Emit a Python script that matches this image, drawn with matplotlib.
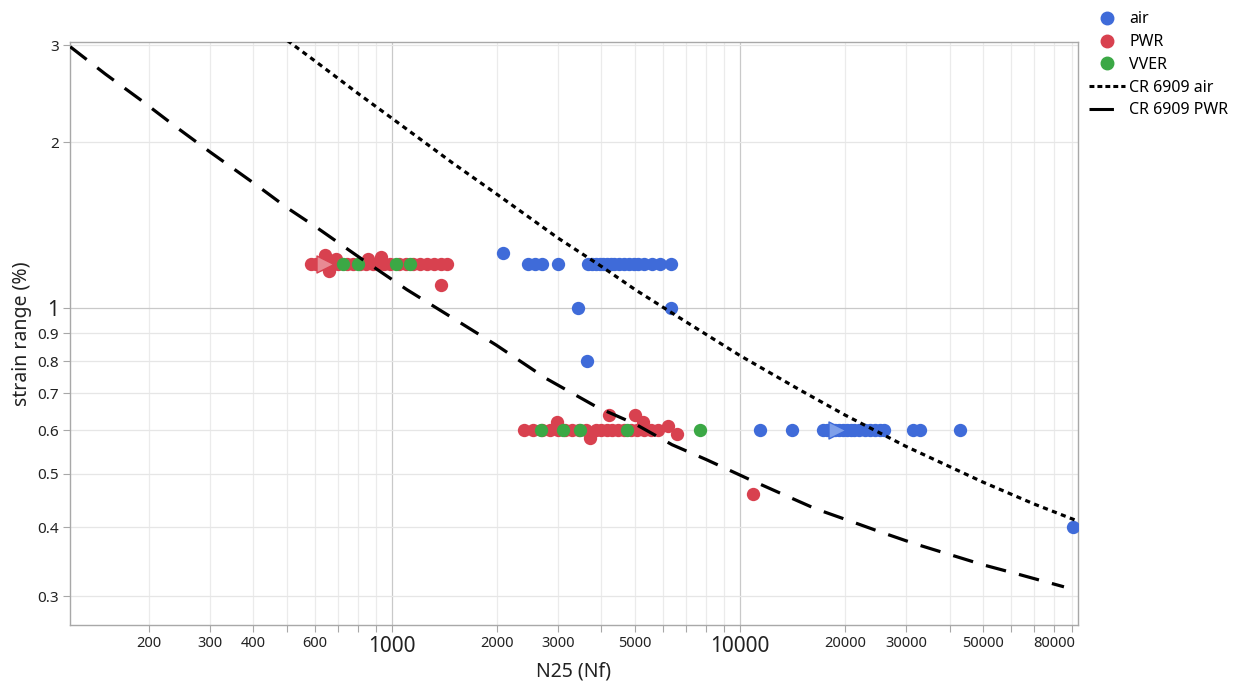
import numpy as np
import matplotlib
matplotlib.use("Agg")
from matplotlib import pyplot as plt
from matplotlib.lines import Line2D
from matplotlib.ticker import FixedLocator, NullLocator, NullFormatter

plt.rcParams['font.family'] = ['Noto Sans', 'DejaVu Sans']

# data (N25 cycles, strain range %)
air_cycles = [2085, 2460, 2576, 2698, 3000,
              3655, 3750, 3850, 3950, 4050, 4150, 4250, 4350, 4500, 4650, 4800, 4950,
              5100, 5300, 5600, 5900, 6340,
              3420, 6340, 3630,
              11400, 14100, 17300, 17800, 18300, 18800, 19300, 19800, 20300, 20800,
              21300, 22000, 22800, 23600, 24500, 25300, 25900, 31400, 32900, 42800,
              90600]
air_strain = [1.26, 1.2, 1.2, 1.2, 1.2,
              1.2, 1.2, 1.2, 1.2, 1.2, 1.2, 1.2, 1.2, 1.2, 1.2, 1.2, 1.2,
              1.2, 1.2, 1.2, 1.2, 1.2,
              1.0, 1.0, 0.80,
              0.6, 0.6, 0.6, 0.6, 0.6, 0.6, 0.6, 0.6, 0.6, 0.6,
              0.6, 0.6, 0.6, 0.6, 0.6, 0.6, 0.6, 0.6, 0.6, 0.6,
              0.40]

pwr_cycles = [585, 605, 625, 650, 675, 700, 745, 775, 810, 840, 880, 915, 950, 990,
              1050, 1100, 1150, 1200, 1260, 1320, 1380, 1440,
              641, 690, 853, 930, 660, 1383,
              2400, 2550, 2700, 2850, 3000, 3150, 3300, 3450, 3600, 3850, 4000,
              4150, 4300, 4450, 4650, 4850, 5050, 5300, 5550, 5800,
              2980, 4200, 4990, 5260, 6210, 6590, 3700,
              10900]
pwr_strain = [1.2, 1.2, 1.2, 1.2, 1.2, 1.2, 1.2, 1.2, 1.2, 1.2, 1.2, 1.2, 1.2, 1.2,
              1.2, 1.2, 1.2, 1.2, 1.2, 1.2, 1.2, 1.2,
              1.25, 1.23, 1.23, 1.24, 1.17, 1.10,
              0.6, 0.6, 0.6, 0.6, 0.6, 0.6, 0.6, 0.6, 0.6, 0.6, 0.6,
              0.6, 0.6, 0.6, 0.6, 0.6, 0.6, 0.6, 0.6, 0.6,
              0.62, 0.64, 0.64, 0.62, 0.61, 0.59, 0.58,
              0.46]

vver_cycles = [723, 798, 1027, 1127, 2680, 3100, 3470, 4730, 7670]
vver_strain = [1.2, 1.2, 1.2, 1.2, 0.6, 0.6, 0.6, 0.6, 0.6]

# run-outs (drawn as triangles)
runout_air = ([19000], [0.6])
runout_pwr = ([640], [1.2])

# design curves
cr_air_cycles = [500, 600, 800, 1000, 1500, 2000, 3000, 4000, 5000, 7000, 10000,
                 15000, 20000, 30000, 50000, 70000, 95000]
cr_air_strain = [3.06, 2.81, 2.45, 2.21, 1.83, 1.61, 1.34, 1.19, 1.08, 0.944, 0.82,
                 0.708, 0.64, 0.561, 0.483, 0.441, 0.409]
cr_pwr_cycles = [119, 150, 189, 240, 300, 409, 500, 608, 800, 1104, 1500, 1992,
                 2775, 3885, 5000, 6380, 8000, 10550, 13000, 16530, 20000, 25740,
                 32000, 40100, 50000, 62900, 85300]
cr_pwr_strain = [2.98, 2.66, 2.39, 2.13, 1.92, 1.67, 1.52, 1.40, 1.24, 1.08, 0.958,
                 0.857, 0.745, 0.661, 0.616, 0.565, 0.531, 0.490, 0.462, 0.432,
                 0.414, 0.391, 0.373, 0.357, 0.342, 0.329, 0.312]

x_ticks = [200, 300, 400, 600, 1000, 2000, 3000, 5000, 10000, 20000, 30000, 50000, 80000]
y_ticks = [0.3, 0.4, 0.5, 0.6, 0.7, 0.8, 0.9, 1, 2, 3]

blue = '#3F6BD9'
red = '#D8414F'
green = '#3BA845'

fig = plt.figure(figsize=(12.45, 6.91), dpi=100)
ax = fig.add_axes([70/1245, 1-625/691, 1008/1245, 583/691])
ax.set_xscale('log')
ax.set_yscale('log')
ax.set_xlim(118.8, 93600)
ax.set_ylim(0.266, 3.04)

# grid
minor_x = [m*10**e for e in range(2, 5) for m in range(2, 10)]
ax.xaxis.set_minor_locator(FixedLocator(minor_x))
ax.xaxis.set_minor_formatter(NullFormatter())
ax.yaxis.set_minor_locator(NullLocator())
for v in minor_x:
    ax.axvline(v, color='#EBEBEB', lw=0.9, zorder=0)
for v in [1000, 10000]:
    ax.axvline(v, color='#C9C9C9', lw=0.9, zorder=0)
for v in y_ticks:
    ax.axhline(v, color='#C9C9C9' if v == 1 else '#E6E6E6', lw=0.9, zorder=0)

ms = 92
ax.scatter(air_cycles, air_strain, s=ms, color=blue, zorder=3, linewidths=0)
ax.scatter(pwr_cycles, pwr_strain, s=ms, color=red, zorder=3, linewidths=0)
ax.scatter(vver_cycles, vver_strain, s=ms, color=green, zorder=4, linewidths=0)
ax.scatter(*runout_air, s=150, marker='>', facecolor='#7FA0EA', edgecolor=blue, zorder=3)
ax.scatter(*runout_pwr, s=150, marker='>', facecolor='#E88A93', edgecolor=red, zorder=3)

ax.plot(cr_air_cycles, cr_air_strain, color='black', lw=2.3, dashes=(1.6, 1.4),
        zorder=5, dash_capstyle='butt')
ax.plot(cr_pwr_cycles, cr_pwr_strain, color='black', lw=2.3, dashes=(6.5, 4.2),
        zorder=5, dash_capstyle='butt')

# ticks
ax.set_xticks(x_ticks)
ax.set_xticklabels([str(t) for t in x_ticks])
for lab, t in zip(ax.get_xticklabels(), x_ticks):
    lab.set_fontsize(15 if t in (1000, 10000) else 10.5)
    lab.set_color('#222222')
ax.set_yticks(y_ticks)
ax.set_yticklabels(['0.3', '0.4', '0.5', '0.6', '0.7', '0.8', '0.9', '1', '2', '3'])
for lab, t in zip(ax.get_yticklabels(), y_ticks):
    lab.set_fontsize(15 if t == 1 else 11)
    lab.set_color('#222222')
ax.tick_params(axis='both', which='both', direction='out', length=5, color='#A8A8A8', width=0.8)
ax.tick_params(axis='x', which='both', pad=3)
ax.tick_params(axis='y', pad=3)

for sp in ax.spines.values():
    sp.set_color('#A8A8A8')
    sp.set_linewidth(1)

ax.set_xlabel('N25 (Nf)', fontsize=14, color='#222222', labelpad=3)
ax.set_ylabel('strain range (%)', fontsize=14, color='#222222', labelpad=4)

handles = [
    Line2D([], [], ls='none', marker='o', ms=9, color=blue),
    Line2D([], [], ls='none', marker='o', ms=9, color=red),
    Line2D([], [], ls='none', marker='o', ms=9, color=green),
    Line2D([], [], color='black', lw=2.2, dashes=(1.6, 1.0)),
    Line2D([], [], color='black', lw=2.2, dashes=(8, 10)),
]
labels = ['air', 'PWR', 'VVER', 'CR 6909 air', 'CR 6909 PWR']
fig.legend(handles, labels, loc='upper left', bbox_to_anchor=(1083/1245, 1-5/691),
           frameon=False, fontsize=11.5, handlelength=2.2, handletextpad=0.3,
           labelspacing=0.42, borderaxespad=0)

fig.savefig('out.png', dpi=100)
